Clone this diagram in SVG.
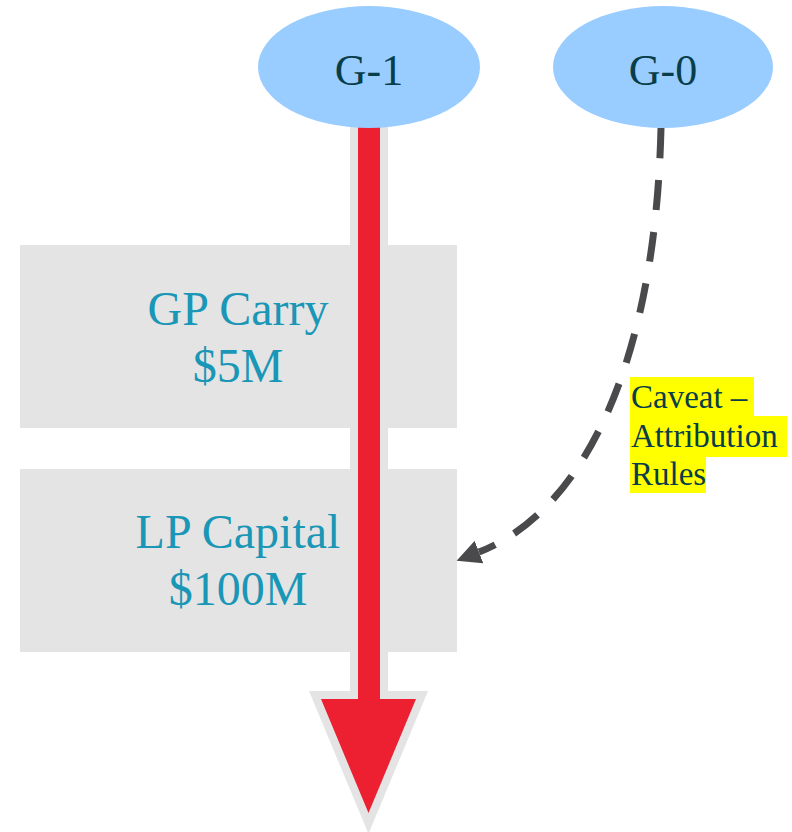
<svg xmlns="http://www.w3.org/2000/svg" width="792" height="832" viewBox="0 0 792 832">
<defs>
<style>
.box{fill:#e4e4e4;}
.boxtxt{font-family:"Liberation Serif",serif;font-size:48px;fill:#1a96b6;text-anchor:middle;}
.ell{fill:#99ccff;}
.elltxt{font-family:"Liberation Serif",serif;font-size:44px;fill:#083d4a;text-anchor:middle;}
.note{font-family:"Liberation Serif",serif;font-size:33px;fill:#083d4a;}
.hl{fill:#ffff00;}
.dash{fill:none;stroke:#4a4a4c;stroke-width:7;stroke-dasharray:30 22;}
</style>
<marker id="ah" markerUnits="userSpaceOnUse" markerWidth="26" markerHeight="24" refX="0" refY="12" orient="auto" viewBox="0 0 26 24">
<path d="M0,0 L24,12 L0,24 Z" fill="#4a4a4c"/>
</marker>
</defs>
<g id="gp-carry">
<rect class="box" x="20" y="245" width="437" height="183"/>
<text class="boxtxt" x="238" y="325">GP Carry</text>
<text class="boxtxt" x="238" y="382">$5M</text>
</g>
<g id="lp-capital">
<rect class="box" x="20" y="469" width="437" height="183"/>
<text class="boxtxt" x="238" y="548">LP Capital</text>
<text class="boxtxt" x="238" y="605">$100M</text>
</g>
<g id="connectors">
<path id="flow" d="M358,120 L380,120 L380,699 L416,699 L368.5,813 L321,699 L358,699 Z" fill="#ec2030" stroke="#e4e4e4" stroke-width="16" stroke-linejoin="miter" paint-order="stroke"/>
<path id="caveat-link" class="dash" d="M661,128 C655,380 575,515 479,552" marker-end="url(#ah)"/>
</g>
<g id="g1">
<ellipse class="ell" cx="369" cy="67" rx="111" ry="61"/>
<text class="elltxt" x="369" y="85">G-1</text>
</g>
<g id="g0">
<ellipse class="ell" cx="663" cy="67" rx="110" ry="61"/>
<text class="elltxt" x="663" y="85">G-0</text>
</g>
<g id="caveat">
<rect class="hl" x="630" y="377" width="124" height="40"/>
<rect class="hl" x="630" y="416" width="157" height="41"/>
<rect class="hl" x="630" y="456" width="76" height="37"/>
<text class="note" x="631" y="408">Caveat –</text>
<text class="note" x="631" y="447">Attribution</text>
<text class="note" x="631" y="485">Rules</text>
</g>
</svg>
